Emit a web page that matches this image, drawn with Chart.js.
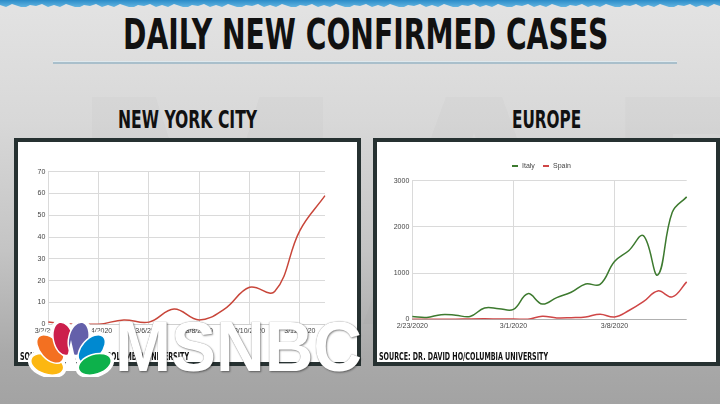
<!DOCTYPE html>
<html>
<head>
<meta charset="utf-8">
<script src="https://cdn.jsdelivr.net/npm/chart.js@4.4.1/dist/chart.umd.min.js"></script>
<style>
html, body { margin: 0; padding: 0; }
body {
    width: 720px; height: 404px; overflow: hidden; position: relative;
    background: linear-gradient(to bottom, #e3e3e3 0%, #d8d8d8 30%, #c4c4c4 62%, #a9a9a9 88%, #a3a3a3 100%);
    font-family: 'Liberation Sans', Arial, sans-serif;
}
.fit {
    position: absolute; white-space: nowrap; transform-origin: 0 0; line-height: 1;
    font-family: 'Liberation Sans Narrow', 'DejaVu Sans Condensed', sans-serif;
    font-weight: bold; color: #111;
}
.panel { position: absolute; box-sizing: border-box; border: 4px solid #263131; background: #fff; }
.panel canvas { position: absolute; left: 0; top: 0; }
.lg { position: absolute; font-size: 7px; color: #444; line-height: 1; }
.lgm { position: absolute; height: 2px; width: 6px; }
#strip { position: absolute; left: 0; top: 0; width: 720px; height: 7px; background: linear-gradient(#2a8bc8, #62b4e0); }
#rule { position: absolute; left: 53px; top: 61px; width: 624px; height: 2px; background: #a9bfcb; border-top: 1px solid #dfe9ee; }
#wm { position: absolute; left: 70px; top: 20px; font: bold 330px 'Liberation Sans Narrow', sans-serif; color: rgba(90, 90, 90, 0.03); letter-spacing: 10px; }
#msnbc { font-family: 'Liberation Sans', Arial, sans-serif; color: #fff; text-shadow: 0 0 1px #777, 1px 1px 2px rgba(0,0,0,0.45); }
</style>
</head>
<body>
<div id="wm">MAD</div>
<div id="strip"></div>
<div class="fit" id="title" data-x="123" data-y="18.3" data-cap="31.7" data-w="485">DAILY NEW CONFIRMED CASES</div>
<div id="rule"></div>
<div class="fit" data-x="118" data-y="110" data-cap="18.3" data-w="139">NEW YORK CITY</div>
<div class="fit" data-x="512" data-y="110" data-cap="18.3" data-w="69">EUROPE</div>

<div class="panel" style="left:14px;top:138px;width:347px;height:228px">
    <canvas id="nycChart" width="339" height="220"></canvas>
</div>
<div class="panel" style="left:373px;top:138px;width:347px;height:228px">
    <canvas id="euChart" width="339" height="220"></canvas>
</div>

<div class="fit" data-x="20" data-y="352.3" data-cap="7.7" data-w="169">SOURCE: DR. DAVID HO/COLUMBIA UNIVERSITY</div>
<div class="fit" data-x="379" data-y="352.3" data-cap="7.7" data-w="169">SOURCE: DR. DAVID HO/COLUMBIA UNIVERSITY</div>

<div class="lgm" style="left:512px;top:165px;background:#3d7a2f"></div>
<div class="lg" style="left:522px;top:162px">Italy</div>
<div class="lgm" style="left:543px;top:165px;background:#cf4646"></div>
<div class="lg" style="left:553px;top:162px">Spain</div>

<canvas id="peacock" width="96" height="62" style="position:absolute;left:24px;top:315px"></canvas>
<div class="fit" id="msnbc" data-x="115" data-y="320" data-cap="51.7" data-w="247">MSNBC</div>

<script>
// NEW YORK CITY
const nycDates = ['3/2/2020', '3/3/2020', '3/4/2020', '3/5/2020', '3/6/2020', '3/7/2020',
    '3/8/2020', '3/9/2020', '3/10/2020', '3/11/2020', '3/12/2020', '3/13/2020'];
const nycCases = [1, 0, 0, 2, 1, 7, 2, 7, 17, 15, 43, 59];
const nycXTicks = ['3/2/2020', '3/4/2020', '3/6/2020', '3/8/2020', '3/10/2020', '3/12/2020'];
const nycYTicks = [0, 10, 20, 30, 40, 50, 60, 70];

// EUROPE
const euDates = ['2/23/2020', '2/24/2020', '2/25/2020', '2/26/2020', '2/27/2020', '2/28/2020', '2/29/2020',
    '3/1/2020', '3/2/2020', '3/3/2020', '3/4/2020', '3/5/2020', '3/6/2020', '3/7/2020',
    '3/8/2020', '3/9/2020', '3/10/2020', '3/11/2020', '3/12/2020', '3/13/2020'];
const italyCases = [60, 40, 100, 90, 60, 245, 230, 215, 555, 330, 470, 585, 765, 755, 1250, 1490, 1810, 960, 2315, 2650];
const spainCases = [0, 0, 0, 3, 8, 10, 7, 5, 0, 65, 30, 35, 50, 110, 50, 190, 380, 615, 485, 810];
const euXTicks = ['2/23/2020', '3/1/2020', '3/8/2020'];
const euYTicks = [0, 1000, 2000, 3000];

// fit the headline texts to their widths
document.querySelectorAll('.fit').forEach(function (el) {
    const cap = +el.dataset.cap;
    const size = cap / 0.729;
    el.style.fontSize = size + 'px';
    el.style.left = el.dataset.x + 'px';
    el.style.top = (+el.dataset.y - 0.1175 * size) + 'px';
    const w = el.offsetWidth;
    el.style.transform = 'scaleX(' + (+el.dataset.w / w) + ')';
});

// top torn strip
(function () {
    const pts = ['0px 0px', '720px 0px'];
    for (let x = 720; x >= 0; x -= 6) {
        const d = [5, 7, 4, 6, 8, 5, 6, 4, 7][(x / 6) % 9];
        pts.push(x + 'px ' + d + 'px');
    }
    document.getElementById('strip').style.clipPath = 'polygon(' + pts.join(',') + ')';
})();

function makeChart(id, labels, datasets, xTicks, yTicks, zeroColor, box) {
    return new Chart(document.getElementById(id), {
        type: 'line',
        data: { labels: labels, datasets: datasets },
        options: {
            responsive: false,
            animation: false,
            devicePixelRatio: 1,
            layout: { padding: { left: 0, right: box.right, top: box.top, bottom: box.bottom } },
            plugins: { legend: { display: false }, tooltip: { enabled: false } },
            elements: {
                point: { radius: 0 },
                line: { tension: 0.4, borderWidth: 1.5, fill: false }
            },
            scales: {
                x: {
                    offset: false,
                    border: { display: false },
                    grid: {
                        drawTicks: false,
                        color: function (ctx) {
                            return xTicks.includes(labels[ctx.index]) ? '#dadada' : 'rgba(0,0,0,0)';
                        }
                    },
                    ticks: {
                        autoSkip: false, maxRotation: 0, padding: 3,
                        color: '#444', font: { size: 7, family: "'Liberation Sans', Arial" },
                        callback: function (v) {
                            const l = this.getLabelForValue(v);
                            return xTicks.includes(l) ? l : '';
                        }
                    },
                    afterFit: function (s) { s.height = 14; }
                },
                y: {
                    min: yTicks[0],
                    max: yTicks[yTicks.length - 1],
                    border: { display: false },
                    grid: {
                        drawTicks: false,
                        color: function (ctx) { return ctx.tick.value === 0 ? zeroColor : '#dadada'; }
                    },
                    ticks: {
                        stepSize: yTicks[1] - yTicks[0], padding: 3,
                        color: '#444', font: { size: 7, family: "'Liberation Sans', Arial" },
                        callback: function (v) { return String(v); }
                    },
                    afterFit: function (s) { s.width = box.left; }
                }
            }
        }
    });
}

makeChart('nycChart', nycDates, [{
    label: 'New York City',
    data: nycCases,
    borderColor: '#c8463a',
    backgroundColor: '#c8463a'
}], nycXTicks, nycYTicks, '#d0d0d0', { left: 30.3, right: 32, top: 29.7, bottom: 23.7 });

makeChart('euChart', euDates, [{
    label: 'Italy',
    data: italyCases,
    borderColor: '#3d7a2f',
    backgroundColor: '#3d7a2f'
}, {
    label: 'Spain',
    data: spainCases,
    borderColor: '#cf4646',
    backgroundColor: '#cf4646'
}], euXTicks, euYTicks, '#b0b0b0', { left: 35.3, right: 29.3, top: 38.7, bottom: 28.7 });

// peacock
(function () {
    const g = document.getElementById('peacock').getContext('2d');
    const px = 47, py = 57;
    const feathers = [
        ['#fcb711', -72, 25], ['#f37021', -42, 31], ['#cc1f4c', -13, 34],
        ['#6460aa', 13, 34], ['#0089d0', 42, 31], ['#0db14b', 72, 25]
    ];
    function shape(f) {
        const a = f[1] * Math.PI / 180;
        g.save();
        g.translate(px + Math.sin(a) * f[2], py - Math.cos(a) * f[2]);
        g.rotate(a);
        g.beginPath();
        g.ellipse(0, 0, 10, 17, 0, 0, Math.PI * 2);
        g.restore();
    }
    feathers.forEach(function (f) { shape(f); g.lineWidth = 6; g.strokeStyle = '#fff'; g.stroke(); });
    feathers.forEach(function (f) { shape(f); g.fillStyle = f[0]; g.fill(); g.lineWidth = 1.5; g.strokeStyle = '#fff'; g.stroke(); });
    g.beginPath();
    g.moveTo(px - 7, py - 1); g.lineTo(px, py - 32); g.lineTo(px + 7, py - 1); g.closePath();
    g.fillStyle = '#fff'; g.fill();
})();
</script>
</body>
</html>
